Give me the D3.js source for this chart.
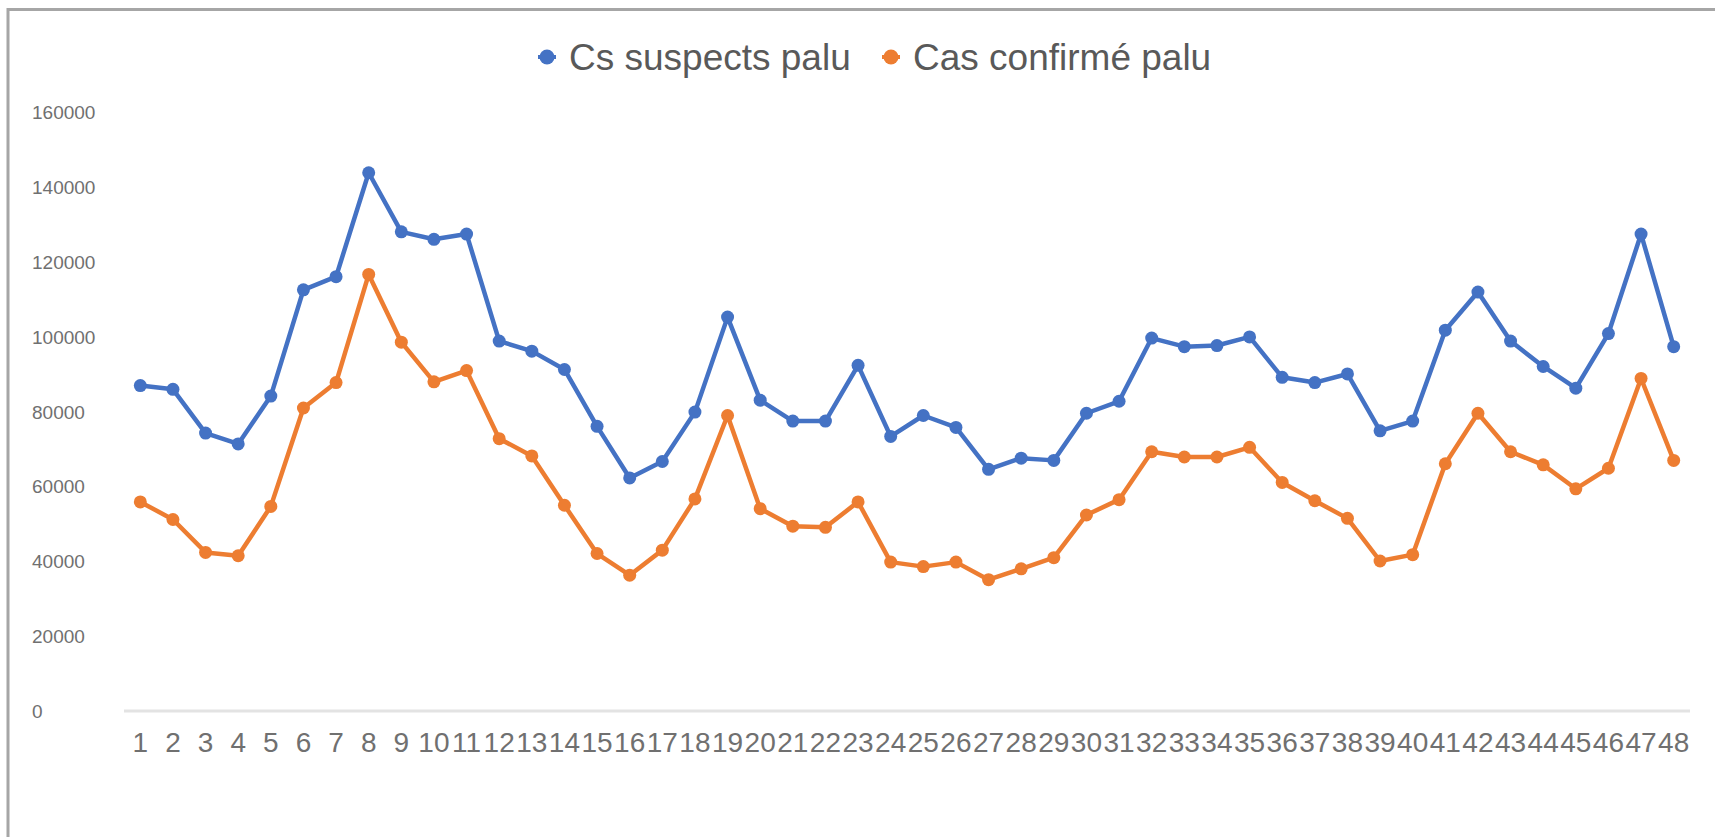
<!DOCTYPE html>
<html>
<head>
<meta charset="utf-8">
<script src="https://cdn.jsdelivr.net/npm/d3@7"></script>
<style>
  body { margin: 0; background: #fff; }
  svg { display: block; font-family: "Liberation Sans", Arial, sans-serif; }
</style>
</head>
<body>
<div id="chart"></div>
<script>
var width = 1715,
    height = 837;

// weeks 1..48
var weeks = d3.range(1, 49);

var suspects = [87000, 86000, 74300, 71400, 84200, 112600, 116100, 143900, 128100, 126100,
    127500, 98900, 96200, 91300, 76100, 62300, 66700, 79900, 105300, 83100,
    77500, 77500, 92400, 73400, 79000, 75800, 64600, 67600, 67000, 79600,
    82800, 99700, 97400, 97700, 100000, 89200, 87800, 90100, 74900, 77500,
    101800, 112000, 98900, 92100, 86300, 100900, 127500, 97400];

var confirmes = [55900, 51200, 42400, 41500, 54700, 81000, 87800, 116700, 98600, 88000,
    91000, 72800, 68200, 55000, 42100, 36300, 43000, 56700, 79000, 54100,
    49400, 49100, 55900, 39800, 38600, 39800, 35100, 38000, 41000, 52400,
    56500, 69300, 67900, 67900, 70500, 61100, 56200, 51500, 40100, 41800,
    66100, 79600, 69300, 65800, 59400, 64900, 88900, 67000];

var seriesNames = ["Cs suspects palu", "Cas confirmé palu"];
var colors = ["#4472C4", "#ED7D31"];
var yTicks = [0, 20000, 40000, 60000, 80000, 100000, 120000, 140000, 160000];

var svg = d3.select("#chart").append("svg")
    .attr("width", width)
    .attr("height", height);

svg.append("rect")
    .attr("width", width)
    .attr("height", height)
    .attr("fill", "#fff");

// frame (only top and left are visible in the screenshot)
svg.append("line")
    .attr("x1", 8).attr("x2", width)
    .attr("y1", 9.5).attr("y2", 9.5)
    .attr("stroke", "#a6a6a6").attr("stroke-width", 3);
svg.append("line")
    .attr("x1", 8).attr("x2", 8)
    .attr("y1", 8).attr("y2", height)
    .attr("stroke", "#a6a6a6").attr("stroke-width", 3);

var x = d3.scaleBand()
    .domain(weeks)
    .range([124, 1690])
    .padding(0);

var y = d3.scaleLinear()
    .domain([0, 160000])
    .range([711, 112.5]);

function cx(d) { return x(d) + x.bandwidth() / 2; }

// y labels (left aligned, no gridlines)
svg.append("g")
    .selectAll("text")
    .data(yTicks)
    .enter().append("text")
    .attr("x", 32)
    .attr("y", function(d) { return y(d); })
    .attr("dy", "0.36em")
    .attr("font-size", 19)
    .attr("fill", "#707070")
    .text(function(d) { return d; });

// x axis line
svg.append("line")
    .attr("x1", x.range()[0]).attr("x2", x.range()[1])
    .attr("y1", y(0)).attr("y2", y(0))
    .attr("stroke", "#e3e3e3")
    .attr("stroke-width", 3);

svg.append("g")
    .selectAll("text")
    .data(weeks)
    .enter().append("text")
    .attr("x", cx)
    .attr("y", 752)
    .attr("text-anchor", "middle")
    .attr("font-size", 28)
    .attr("fill", "#707070")
    .text(function(d) { return d; });

var line = d3.line()
    .x(function(d, i) { return cx(weeks[i]); })
    .y(function(d) { return y(d); });

[suspects, confirmes].forEach(function(values, s) {
    svg.append("path")
        .datum(values)
        .attr("d", line)
        .attr("fill", "none")
        .attr("stroke", colors[s])
        .attr("stroke-width", 4.5)
        .attr("stroke-linejoin", "round");

    svg.append("g")
        .selectAll("circle")
        .data(values)
        .enter().append("circle")
        .attr("cx", function(d, i) { return cx(weeks[i]); })
        .attr("cy", function(d) { return y(d); })
        .attr("r", 6.5)
        .attr("fill", colors[s]);
});

// legend
var legendX = [547, 891];
var lg = svg.append("g");
seriesNames.forEach(function(name, i) {
    lg.append("line")
        .attr("x1", legendX[i] - 9).attr("x2", legendX[i] + 9)
        .attr("y1", 57).attr("y2", 57)
        .attr("stroke", colors[i]).attr("stroke-width", 4);
    lg.append("circle")
        .attr("cx", legendX[i]).attr("cy", 57)
        .attr("r", 7.5)
        .attr("fill", colors[i]);
    lg.append("text")
        .attr("x", legendX[i] + 22)
        .attr("y", 57)
        .attr("dy", "0.36em")
        .attr("font-size", 37)
        .attr("fill", "#595959")
        .text(name);
});
</script>
</body>
</html>
